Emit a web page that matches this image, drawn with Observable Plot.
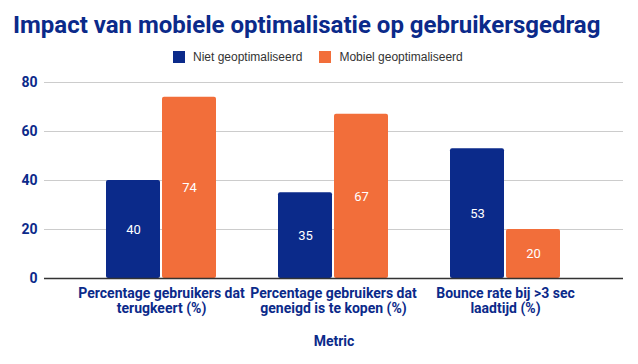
<!DOCTYPE html>
<html>
<head>
<meta charset="utf-8">
<script src="https://cdn.jsdelivr.net/npm/d3@7"></script>
<script src="https://cdn.jsdelivr.net/npm/@observablehq/plot@0.6"></script>
<style>
  html, body { margin: 0; padding: 0; background: #fff; }
  #wrap { width: 638px; height: 364px; overflow: hidden; }
  #title { height: 44px; box-sizing: border-box; padding-top: 13px; padding-left: 13px;
    font: 700 24px/24px Roboto, sans-serif; color: #0b2a8a; white-space: nowrap; }
  #legend { height: 26px; display: flex; align-items: center; padding-left: 173px;
    font: 12px "Liberation Sans", Arial, sans-serif; color: #333; }
  .sw { width: 12px; height: 12px; margin-right: 8px; }
  .item { display: flex; align-items: center; margin-right: 17px; }
  svg { display: block; }
</style>
</head>
<body>
<div id="wrap">
  <div id="title">Impact van mobiele optimalisatie op gebruikersgedrag</div>
  <div id="legend"></div>
  <div id="chart"></div>
</div>
<script>
const metrics = [
  "Percentage gebruikers dat terugkeert (%)",
  "Percentage gebruikers dat geneigd is te kopen (%)",
  "Bounce rate bij >3 sec laadtijd (%)"
];
const tickLabels = [
  "Percentage gebruikers dat\nterugkeert (%)",
  "Percentage gebruikers dat\ngeneigd is te kopen (%)",
  "Bounce rate bij >3 sec\nlaadtijd (%)"
];
const seriesNames = ["Niet geoptimaliseerd", "Mobiel geoptimaliseerd"];
const nietValues = [40, 35, 53];
const mobielValues = [74, 67, 20];
const yTicks = [0, 20, 40, 60, 80];
const colors = ["#0b2a8a", "#f26e3a"];
const navy = "#0b2a8a";

const rows = [];
metrics.forEach((m, i) => {
  rows.push({metric: m, series: seriesNames[0], value: nietValues[i]});
  rows.push({metric: m, series: seriesNames[1], value: mobielValues[i]});
});
const niet = rows.filter(d => d.series === seriesNames[0]);
const mobiel = rows.filter(d => d.series === seriesNames[1]);
const labelOf = new Map(metrics.map((m, i) => [m, tickLabels[i]]));

// legend
const legend = document.getElementById("legend");
seriesNames.forEach((s, i) => {
  const it = document.createElement("div");
  it.className = "item";
  const sw = document.createElement("div");
  sw.className = "sw";
  sw.style.background = colors[i];
  const t = document.createElement("span");
  t.textContent = s;
  it.appendChild(sw); it.appendChild(t);
  legend.appendChild(it);
});

const inset = 56;
const plot = Plot.plot({
  width: 638,
  height: 294,
  marginTop: 12,
  marginBottom: 86,
  marginLeft: 44,
  marginRight: 15,
  style: {fontFamily: "Roboto, sans-serif", color: navy, background: "#fff"},
  x: {type: "band", domain: metrics, padding: 0.36},
  y: {domain: [0, 80], ticks: yTicks},
  marks: [
    Plot.ruleY(yTicks.filter(d => d > 0), {stroke: "#cccccc", strokeWidth: 1}),
    Plot.barY(niet, {x: "metric", y: "value", fill: colors[0], insetRight: inset, rx: 2}),
    Plot.barY(mobiel, {x: "metric", y: "value", fill: colors[1], insetLeft: inset, rx: 2}),
    Plot.text(niet, {x: "metric", y: d => d.value / 2, text: d => String(d.value), dx: -28, fill: "#fff", fontSize: 13}),
    Plot.text(mobiel, {x: "metric", y: d => d.value / 2, text: d => String(d.value), dx: 28, fill: "#fff", fontSize: 13}),
    Plot.ruleY([0], {stroke: "#333", strokeWidth: 1.5}),
    Plot.axisY({ticks: yTicks, tickSize: 0, tickPadding: 7, fontSize: 14, fontWeight: "bold", fill: navy, label: null}),
    Plot.axisX({tickSize: 0, tickPadding: 9, fontSize: 14, fontWeight: "bold", fill: navy, label: null,
      tickFormat: d => labelOf.get(d), lineHeight: 1.05}),
    Plot.text(["Metric"], {frameAnchor: "bottom", dy: 67, fontSize: 14, fontWeight: "bold", fill: navy})
  ]
});
document.getElementById("chart").appendChild(plot);
</script>
</body>
</html>
